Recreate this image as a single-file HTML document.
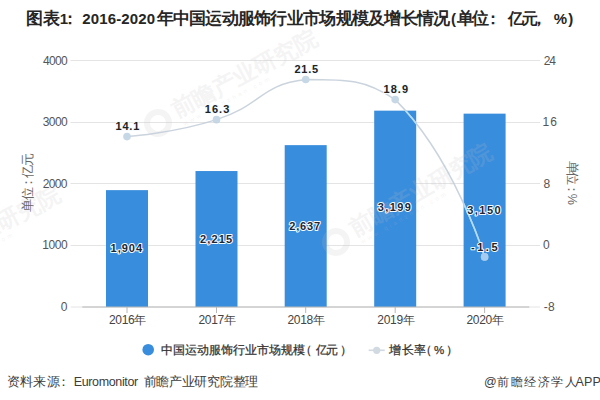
<!DOCTYPE html>
<html><head><meta charset="utf-8"><style>
html,body{margin:0;padding:0;background:#fff;width:600px;height:400px;overflow:hidden}
svg{display:block;font-family:"Liberation Sans", sans-serif}
</style></head><body>
<svg width="600" height="400" viewBox="0 0 600 400">
<line x1="70.5" y1="245.50" x2="540" y2="245.50" stroke="#e4e4e4" stroke-width="1"/>
<line x1="70.5" y1="183.50" x2="540" y2="183.50" stroke="#e4e4e4" stroke-width="1"/>
<line x1="70.5" y1="122.50" x2="540" y2="122.50" stroke="#e4e4e4" stroke-width="1"/>
<line x1="70.5" y1="60.50" x2="540" y2="60.50" stroke="#e4e4e4" stroke-width="1"/>
<line x1="70.5" y1="307.0" x2="540" y2="307.0" stroke="#e4e4e4" stroke-width="1"/>
<rect x="106.00" y="190.13" width="42" height="116.87" fill="#398ddd"/>
<rect x="195.50" y="171.04" width="42" height="135.96" fill="#398ddd"/>
<rect x="284.70" y="145.14" width="42" height="161.86" fill="#398ddd"/>
<rect x="374.20" y="110.65" width="42" height="196.35" fill="#398ddd"/>
<rect x="463.60" y="113.65" width="42" height="193.35" fill="#398ddd"/>
<g transform="translate(158,123) rotate(-28)" opacity="0.16" fill="#c0c0c0"><circle cx="0" cy="0" r="11" fill="none" stroke="#c0c0c0" stroke-width="6"/><text x="19" y="5" font-size="23" font-weight="bold">前瞻产业研究院</text><text x="22" y="15" font-size="6" letter-spacing="3">www.qianzhan.com</text></g>
<g transform="translate(336,242) rotate(-30)" opacity="0.16" fill="#c0c0c0"><circle cx="0" cy="0" r="11" fill="none" stroke="#c0c0c0" stroke-width="6"/><text x="19" y="5" font-size="23" font-weight="bold">前瞻产业研究院</text><text x="22" y="15" font-size="6" letter-spacing="3">www.qianzhan.com</text></g>
<g transform="translate(-99,279) rotate(-28)" opacity="0.16" fill="#c0c0c0"><circle cx="0" cy="0" r="11" fill="none" stroke="#c0c0c0" stroke-width="6"/><text x="19" y="5" font-size="23" font-weight="bold">前瞻产业研究院</text><text x="22" y="15" font-size="6" letter-spacing="3">www.qianzhan.com</text></g>
<line x1="82.3" y1="307.0" x2="529.3" y2="307.0" stroke="#b8b8b8" stroke-width="1"/>
<line x1="127.0" y1="307.0" x2="127.0" y2="313.0" stroke="#b8b8b8" stroke-width="1"/>
<line x1="216.5" y1="307.0" x2="216.5" y2="313.0" stroke="#b8b8b8" stroke-width="1"/>
<line x1="305.7" y1="307.0" x2="305.7" y2="313.0" stroke="#b8b8b8" stroke-width="1"/>
<line x1="395.2" y1="307.0" x2="395.2" y2="313.0" stroke="#b8b8b8" stroke-width="1"/>
<line x1="484.6" y1="307.0" x2="484.6" y2="313.0" stroke="#b8b8b8" stroke-width="1"/>
<text transform="translate(32.3,182.5) rotate(-90)" text-anchor="middle" font-size="12.8" textLength="58.5" lengthAdjust="spacing" fill="#666">单位：亿元</text>
<text transform="translate(568.2,183) rotate(90)" text-anchor="middle" font-size="12.5" textLength="43.5" lengthAdjust="spacing" fill="#666">单位：%</text>
<g opacity="0.85"><path d="M127.00,136.62 C127.00,136.62 173.41,133.42 216.50,119.66 C262.76,104.89 259.59,84.75 305.70,79.57 C348.94,79.57 365.11,79.57 395.20,99.62 C454.56,158.45 484.60,256.89 484.60,256.89" fill="none" stroke="#c2cdd8" stroke-width="1.5"/>
<circle cx="127.0" cy="136.62" r="3.8" fill="#bdd1e2"/>
<circle cx="216.5" cy="119.66" r="3.8" fill="#bdd1e2"/>
<circle cx="305.7" cy="79.57" r="3.8" fill="#bdd1e2"/>
<circle cx="395.2" cy="99.62" r="3.8" fill="#bdd1e2"/>
<circle cx="484.6" cy="256.89" r="3.8" fill="#bdd1e2"/>
</g>
<clipPath id="bc"><rect x="106.00" y="190.13" width="42" height="116.87"/><rect x="195.50" y="171.04" width="42" height="135.96"/><rect x="284.70" y="145.14" width="42" height="161.86"/><rect x="374.20" y="110.65" width="42" height="196.35"/><rect x="463.60" y="113.65" width="42" height="193.35"/></clipPath>
<g clip-path="url(#bc)"><path d="M127.00,136.62 C127.00,136.62 173.41,133.42 216.50,119.66 C262.76,104.89 259.59,84.75 305.70,79.57 C348.94,79.57 365.11,79.57 395.20,99.62 C454.56,158.45 484.60,256.89 484.60,256.89" fill="none" stroke="#b3ddf8" stroke-width="1.6"/>
<circle cx="127.0" cy="136.62" r="3.8" fill="#a6cdf0"/>
<circle cx="216.5" cy="119.66" r="3.8" fill="#a6cdf0"/>
<circle cx="305.7" cy="79.57" r="3.8" fill="#a6cdf0"/>
<circle cx="395.2" cy="99.62" r="3.8" fill="#a6cdf0"/>
<circle cx="484.6" cy="256.89" r="3.8" fill="#a6cdf0"/>
</g>
<text x="25.7" y="23.9" font-size="16.5" font-weight="bold" textLength="34.0" lengthAdjust="spacing" fill="#262626">图表</text>
<text x="59.7" y="23.9" font-size="15" font-weight="bold" fill="#262626">1</text>
<text x="62.3" y="23.9" font-size="16" font-weight="bold" fill="#262626">：</text>
<text x="82.3" y="23.9" font-size="15" font-weight="bold" textLength="72.7" lengthAdjust="spacing" fill="#262626">2016-2020</text>
<text x="156.7" y="23.9" font-size="16.5" font-weight="bold" textLength="293.33" lengthAdjust="spacing" fill="#262626">年中国运动服饰行业市场规模及增长情况</text>
<text x="451.0" y="23.9" font-size="15" font-weight="bold" fill="#262626">(</text>
<text x="456.7" y="23.9" font-size="16.5" font-weight="bold" textLength="32.27" lengthAdjust="spacing" fill="#262626">单位</text>
<text x="484.7" y="23.9" font-size="16" font-weight="bold" fill="#262626">：</text>
<text x="507.5" y="23.9" font-size="16" font-weight="bold" fill="#262626">亿</text>
<text x="521.7" y="23.9" font-size="16" font-weight="bold" fill="#262626">元</text>
<text x="530.5" y="23.9" font-size="16" font-weight="bold" fill="#262626">，</text>
<text x="553.8" y="23.9" font-size="15" font-weight="bold" fill="#262626">%</text>
<text x="568.2" y="23.9" font-size="15" font-weight="bold" fill="#262626">)</text>
<text x="43.0" y="64.8" font-size="12" textLength="24.62" lengthAdjust="spacing" fill="#555">4000</text>
<text x="42.75" y="126.05" font-size="12" textLength="24.98" lengthAdjust="spacing" fill="#555">3000</text>
<text x="42.75" y="187.72" font-size="12" textLength="24.77" lengthAdjust="spacing" fill="#555">2000</text>
<text x="42.2" y="249.32" font-size="12" textLength="25.54" lengthAdjust="spacing" fill="#555">1000</text>
<text x="60.8" y="310.75" font-size="12" fill="#555">0</text>
<text x="543.7" y="64.8" font-size="12" textLength="12.36" lengthAdjust="spacing" fill="#555">24</text>
<text x="542.5" y="126.15" font-size="12" textLength="14.4" lengthAdjust="spacing" fill="#555">16</text>
<text x="543.5" y="187.72" font-size="12" fill="#555">8</text>
<text x="543.0" y="249.35" font-size="12" fill="#555">0</text>
<text x="543.7" y="311.3" font-size="12" textLength="11.0" lengthAdjust="spacing" fill="#555">-8</text>
<text x="109.0" y="324.2" font-size="12" textLength="37.47" lengthAdjust="spacing" fill="#444">2016年</text>
<text x="198.5" y="324.2" font-size="12" textLength="37.47" lengthAdjust="spacing" fill="#444">2017年</text>
<text x="287.5" y="324.2" font-size="12" textLength="37.47" lengthAdjust="spacing" fill="#444">2018年</text>
<text x="377.3" y="324.2" font-size="12" textLength="37.47" lengthAdjust="spacing" fill="#444">2019年</text>
<text x="466.5" y="324.2" font-size="12" textLength="37.47" lengthAdjust="spacing" fill="#444">2020年</text>
<text x="160.7" y="353.8" font-size="11.5" textLength="144.5" lengthAdjust="spacing" fill="#333" stroke="#333" stroke-width="0.25">中国运动服饰行业市场规模</text>
<text x="299.5" y="353.8" font-size="11.5" fill="#333" stroke="#333" stroke-width="0.25">（</text>
<text x="315.8" y="353.8" font-size="11.5" textLength="22.66" lengthAdjust="spacing" fill="#333" stroke="#333" stroke-width="0.25">亿元</text>
<text x="339.7" y="353.8" font-size="11.5" fill="#333" stroke="#333" stroke-width="0.25">）</text>
<text x="389.3" y="353.8" font-size="11.5" textLength="36.69" lengthAdjust="spacing" fill="#333" stroke="#333" stroke-width="0.25">增长率</text>
<text x="419.7" y="353.8" font-size="11.5" fill="#333" stroke="#333" stroke-width="0.25">（</text>
<text x="434.0" y="353.8" font-size="11.5" fill="#333" stroke="#333" stroke-width="0.25">%</text>
<text x="446.3" y="353.8" font-size="11.5" fill="#333" stroke="#333" stroke-width="0.25">）</text>
<text x="6.5" y="385.8" font-size="12.5" textLength="53.46" lengthAdjust="spacing" fill="#3c3c3c">资料来源</text>
<text x="56.5" y="385.8" font-size="12.5" fill="#3c3c3c">：</text>
<text x="73.7" y="385.8" font-size="12.5" textLength="64.5" lengthAdjust="spacing" fill="#3c3c3c">Euromonitor</text>
<text x="143.5" y="385.8" font-size="12.5" textLength="114.99" lengthAdjust="spacing" fill="#3c3c3c">前瞻产业研究院整理</text>
<text x="484.0" y="385.8" font-size="12.5" fill="#3c3c3c">@</text>
<text x="497.0" y="385.8" font-size="12" textLength="79.85" lengthAdjust="spacing" fill="#3c3c3c">前瞻经济学人</text>
<text x="575.5" y="385.8" font-size="12.5" textLength="25.4" lengthAdjust="spacing" fill="#3c3c3c">APP</text>
<text x="115.5" y="129.9" font-size="11" font-weight="bold" textLength="23.77" lengthAdjust="spacing" fill="#222" stroke="#f4fbff" stroke-width="2" paint-order="stroke" stroke-linejoin="round">14.1</text>
<text x="204.8" y="112.65" font-size="11" font-weight="bold" textLength="24.45" lengthAdjust="spacing" fill="#222" stroke="#f4fbff" stroke-width="2" paint-order="stroke" stroke-linejoin="round">16.3</text>
<text x="294.5" y="73.1" font-size="11" font-weight="bold" textLength="23.58" lengthAdjust="spacing" fill="#222" stroke="#f4fbff" stroke-width="2" paint-order="stroke" stroke-linejoin="round">21.5</text>
<text x="383.5" y="92.95" font-size="11" font-weight="bold" textLength="24.54" lengthAdjust="spacing" fill="#222" stroke="#f4fbff" stroke-width="2" paint-order="stroke" stroke-linejoin="round">18.9</text>
<text x="471.0" y="250.95" font-size="11" font-weight="bold" textLength="26.57" lengthAdjust="spacing" fill="#222" stroke="#f4fbff" stroke-width="2" paint-order="stroke" stroke-linejoin="round">-1.5</text>
<text x="110.5" y="252.25" font-size="11" font-weight="bold" textLength="31.64" lengthAdjust="spacing" fill="#1b2735" stroke="#f4fbff" stroke-width="2" paint-order="stroke" stroke-linejoin="round">1,904</text>
<text x="200.0" y="242.55" font-size="11" font-weight="bold" textLength="32.17" lengthAdjust="spacing" fill="#1b2735" stroke="#f4fbff" stroke-width="2" paint-order="stroke" stroke-linejoin="round">2,215</text>
<text x="289.3" y="229.75" font-size="11" font-weight="bold" textLength="30.8" lengthAdjust="spacing" fill="#1b2735" stroke="#f4fbff" stroke-width="2" paint-order="stroke" stroke-linejoin="round">2,637</text>
<text x="377.75" y="211.28" font-size="11" font-weight="bold" textLength="33.15" lengthAdjust="spacing" fill="#1b2735" stroke="#f4fbff" stroke-width="2" paint-order="stroke" stroke-linejoin="round">3,199</text>
<text x="467.25" y="214.38" font-size="11" font-weight="bold" textLength="33.34" lengthAdjust="spacing" fill="#1b2735" stroke="#f4fbff" stroke-width="2" paint-order="stroke" stroke-linejoin="round">3,150</text>
<circle cx="148.2" cy="349.7" r="5.8" fill="#398ddd"/>
<g opacity="0.75"><line x1="368.7" y1="350.3" x2="384.7" y2="350.3" stroke="#c2cdd8" stroke-width="1.6"/>
<circle cx="376.7" cy="350.3" r="3.6" fill="#c2cdd8"/></g>
</svg>
</body></html>
